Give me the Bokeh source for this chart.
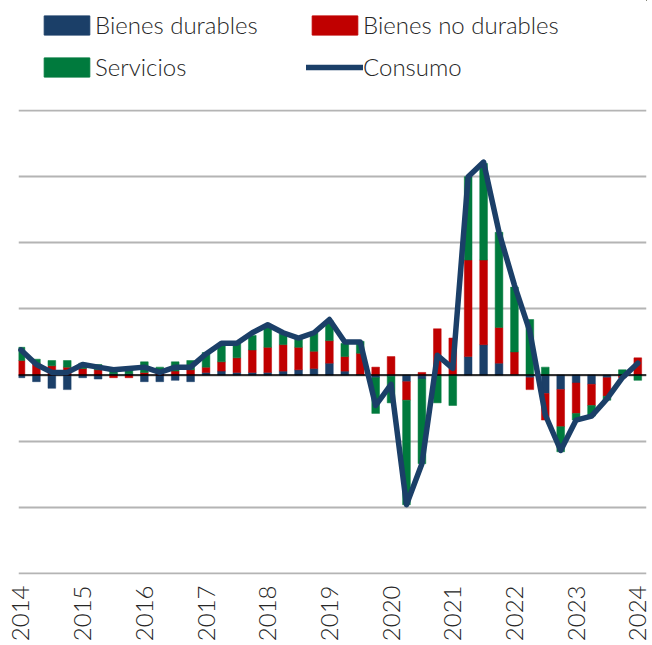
from bokeh.plotting import figure
from bokeh.layouts import column
from bokeh.models import (ColumnDataSource, Range1d, Legend, LegendItem, Grid,
                          SingleIntervalTicker, FixedTicker, Span)
from bokeh.embed import file_html
from bokeh.resources import INLINE

# ---------------- data (contributions, quarterly 2014Q1 - 2024Q1) ----------------
quarters = list(range(41))
year_ticks = [0, 4, 8, 12, 16, 20, 24, 28, 32, 36, 40]
year_labels = ["2014", "2015", "2016", "2017", "2018", "2019",
               "2020", "2021", "2022", "2023", "2024"]

bienes_durables = [-0.2, -0.5, -1.0, -1.1, -0.2, -0.3, 0.1, 0.1, -0.5, -0.5,
                   -0.4, -0.5, 0.2, 0.3, 0.2, 0.2, 0.2, 0.3, 0.4, 0.5,
                   0.9, 0.3, 0.05, -0.2, -0.1, -0.5, -0.3, 0.0, 0.0, 1.4,
                   2.3, 0.9, 0.05, -0.2, -1.4, -1.1, -0.6, -0.7, -0.2, -0.1,
                   0.0]
bienes_no_durables = [1.1, 0.9, 0.7, 0.6, 0.5, 0.4, -0.2, -0.2, 0.2, 0.2,
                      0.3, 0.4, 0.4, 0.7, 1.1, 1.7, 1.9, 2.0, 1.7, 1.3,
                      1.7, 1.1, 1.6, 0.6, 1.4, -1.4, 0.2, 3.5, 2.8, 7.3,
                      6.4, 2.7, 1.7, -0.9, -2.0, -2.8, -2.3, -1.6, -1.4, -0.1,
                      1.3]
servicios = [1.0, 0.3, 0.4, 0.5, 0.4, 0.4, 0.4, 0.5, 0.8, 0.4,
             0.7, 0.7, 1.1, 1.3, 1.1, 1.1, 1.7, 0.8, 0.6, 1.4,
             1.5, 1.0, 0.9, -2.7, -2.0, -7.9, -6.4, -2.1, -2.3, 6.3,
             7.3, 7.2, 4.9, 4.2, 0.6, -1.9, -0.5, -0.8, -0.3, 0.4,
             -0.4]
consumo = [1.9, 0.8, 0.2, 0.2, 0.8, 0.6, 0.4, 0.5, 0.6, 0.2,
           0.6, 0.6, 1.6, 2.4, 2.4, 3.2, 3.8, 3.2, 2.8, 3.2,
           4.2, 2.5, 2.5, -2.3, -0.7, -9.8, -6.7, 1.5, 0.5, 15.0,
           16.1, 10.8, 6.8, 3.3, -3.0, -5.7, -3.4, -3.1, -1.8, -0.2,
           0.9]

series_names = ["Bienes durables", "Bienes no durables", "Servicios"]
series_values = [bienes_durables, bienes_no_durables, servicios]
colors = ["#1B3F68", "#C00000", "#007A3D"]
line_color = "#1B3F68"
line_name = "Consumo"

FONT = "Lato Light, Lato"
TEXT_COLOR = "#262626"

# stacked bars: positives stack upward, negatives downward (Excel style)
pos_base = [0.0] * len(quarters)
neg_base = [0.0] * len(quarters)
sources = []
for vals in series_values:
    bottoms, tops = [], []
    for i, v in enumerate(vals):
        if v >= 0:
            b = pos_base[i]; t = b + v; pos_base[i] = t
        else:
            b = neg_base[i]; t = b + v; neg_base[i] = t
        bottoms.append(b); tops.append(t)
    sources.append(ColumnDataSource(dict(x=quarters, bottom=bottoms, top=tops)))

# ---------------- legend strip (top) ----------------
lg = figure(width=652, height=100, output_backend="svg", toolbar_location=None,
            x_range=Range1d(0, 1), y_range=Range1d(0, 1),
            x_axis_type=None, y_axis_type=None,
            min_border_left=0, min_border_right=0, min_border_top=0, min_border_bottom=0)
lg.outline_line_color = None
lg.xgrid.visible = False
lg.ygrid.visible = False
# legend-sample renderers, kept outside the visible range
dummy_src = ColumnDataSource(dict(x=[5], bottom=[5], top=[6]))
leg_renderers = {}
for n, c in zip(series_names, colors):
    leg_renderers[n] = lg.vbar(x="x", bottom="bottom", top="top", width=0.5,
                               source=dummy_src, fill_color=c, line_color=c)
leg_line = lg.line(x=[5, 6], y=[5, 5], line_color=line_color, line_width=5.5,
                   line_cap="round")
order = [("Bienes durables", leg_renderers["Bienes durables"]),
         ("Servicios", leg_renderers["Servicios"]),
         ("Bienes no durables", leg_renderers["Bienes no durables"]),
         (line_name, leg_line)]
legend = Legend(items=[LegendItem(label=n, renderers=[r]) for n, r in order],
                ncols=2, location=(20, 19), glyph_width=57, glyph_height=24,
                label_standoff=0, label_width=198, label_height=26, spacing=13,
                padding=0, margin=0, border_line_color=None,
                background_fill_alpha=0, label_text_font=FONT,
                label_text_font_size="24px", label_text_color=TEXT_COLOR)
lg.add_layout(legend, "center")

# ---------------- main chart ----------------
p = figure(width=652, height=545, output_backend="svg", toolbar_location=None,
           x_range=Range1d(-0.162, 40.565), y_range=Range1d(-15.076, 20.076),
           y_axis_type=None, min_border_left=18, min_border_right=6,
           min_border_top=9, min_border_bottom=71)
p.outline_line_color = None
p.background_fill_color = "white"
p.border_fill_color = "white"

p.xgrid.visible = False
p.add_layout(Grid(dimension=1, ticker=SingleIntervalTicker(interval=5),
                  grid_line_color="#B4B4B4", grid_line_width=2))

for src, c in zip(sources, colors):
    p.vbar(x="x", bottom="bottom", top="top", width=0.5, source=src,
           fill_color=c, line_color=c, line_width=0.5)

zero = Span(location=0, dimension="width", line_color="black", line_width=1.5)
p.add_layout(zero)

lr = p.line(quarters, consumo, line_color=line_color, line_width=5.5,
            line_join="round", line_cap="round")
lr.level = "overlay"

ax = p.xaxis[0]
ax.ticker = FixedTicker(ticks=year_ticks)
ax.major_label_overrides = {t: l for t, l in zip(year_ticks, year_labels)}
ax.major_label_orientation = 1.5707963
ax.axis_line_color = None
ax.major_tick_line_color = None
ax.minor_tick_line_color = None
ax.major_tick_out = 0
ax.major_label_standoff = 11
ax.major_label_text_font = FONT
ax.major_label_text_font_size = "24px"
ax.major_label_text_color = TEXT_COLOR

layout = column(lg, p, spacing=0)
open("out.html", "w").write(file_html(layout, INLINE))
